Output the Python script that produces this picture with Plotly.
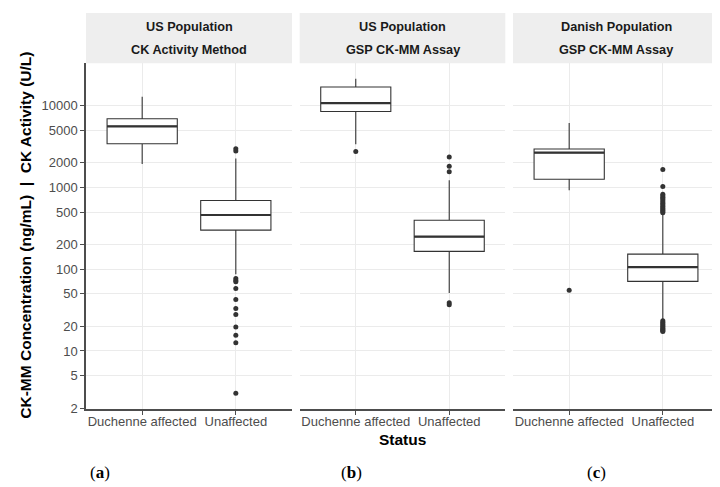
import math
import plotly.graph_objects as go

# ---- data ----
categories = ["Duchenne affected", "Unaffected"]
strip_line1 = ["US Population", "US Population", "Danish Population"]
strip_line2 = ["CK Activity Method", "GSP CK-MM Assay", "GSP CK-MM Assay"]
panel_labels = ["a", "b", "c"]

# panel (a): US population, CK activity method
a_low = [1930, 87]
a_q1 = [3420, 300]
a_med = [5580, 460]
a_q3 = [6920, 692]
a_up = [12800, 2250]
a_out_duch = []
a_out_unaff = [2970, 2790, 77, 73, 70, 58, 42.5, 33, 28, 19.6, 15.6, 12.6, 3.05]

# panel (b): US population, GSP CK-MM assay
b_low = [3360, 51]
b_q1 = [8480, 165]
b_med = [10700, 250]
b_q3 = [16900, 397]
b_up = [21300, 1225]
b_out_duch = [2740]
b_out_unaff = [2360, 1820, 1550, 38.9, 36.8]

# panel (c): Danish population, GSP CK-MM assay
c_low = [920, 24.5]
c_q1 = [1260, 71]
c_med = [2660, 106]
c_q3 = [2950, 153]
c_up = [6120, 478]
c_out_duch = [55.3]
c_out_unaff = [1650, 1028, 824, 790, 760, 730, 700, 670, 640, 615, 590, 565,
               545, 525, 505, 490, 23.5, 22.5, 21.5, 20.8, 20.0, 19.3, 18.7,
               18.2, 17.7, 17.3]

y_ticks = [2, 5, 10, 20, 50, 100, 200, 500, 1000, 2000, 5000, 10000]

panels = [
    (a_low, a_q1, a_med, a_q3, a_up, a_out_duch, a_out_unaff),
    (b_low, b_q1, b_med, b_q3, b_up, b_out_duch, b_out_unaff),
    (c_low, c_q1, c_med, c_q3, c_up, c_out_duch, c_out_unaff),
]

# ---- layout geometry ----
W, H = 720, 487
x_px = [(78, 284), (291.7, 497.3), (505, 711)]
plot_top, plot_bot = 56, 407
strip_top = 5
ydom = [(H - plot_bot) / H, (H - plot_top) / H]
pos = [1, 2]
box_w = 0.75
line_col = "#333333"
axis_col = "#4D4D4D"
grid_col = "#EBEBEB"

fig = go.Figure()

for i, (low, q1, med, q3, up, od, ou) in enumerate(panels):
    xa = "x" if i == 0 else f"x{i+1}"
    ya = "y" if i == 0 else f"y{i+1}"
    fig.add_trace(go.Box(
        x=pos, q1=q1, median=med, q3=q3, lowerfence=low, upperfence=up,
        width=box_w, whiskerwidth=0, boxpoints=False,
        fillcolor="white", line=dict(color=line_col, width=1.1),
        xaxis=xa, yaxis=ya, showlegend=False, hoverinfo="skip"))
    # thicker median lines (ggplot fatten)
    for p, m in zip(pos, med):
        fig.add_trace(go.Scatter(
            x=[p - box_w / 2, p + box_w / 2], y=[m, m], mode="lines",
            line=dict(color=line_col, width=2.2), xaxis=xa, yaxis=ya,
            showlegend=False, hoverinfo="skip"))
    # outliers
    ox = [pos[0]] * len(od) + [pos[1]] * len(ou)
    oy = list(od) + list(ou)
    fig.add_trace(go.Scatter(
        x=ox, y=oy, mode="markers",
        marker=dict(color=line_col, size=5),
        xaxis=xa, yaxis=ya, showlegend=False, hoverinfo="skip"))

yr = [math.log10(1.945), math.log10(33000)]

layout = dict(
    width=W, height=H, margin=dict(l=0, r=0, t=0, b=0),
    paper_bgcolor="white", plot_bgcolor="white",
    font=dict(family="Liberation Sans, Arial", color=axis_col, size=13),
    showlegend=False,
)
shapes = []
annotations = []
for i in range(3):
    xk = "xaxis" if i == 0 else f"xaxis{i+1}"
    yk = "yaxis" if i == 0 else f"yaxis{i+1}"
    xd = [x_px[i][0] / W, x_px[i][1] / W]
    yname = "y" if i == 0 else f"y{i+1}"
    xname = "x" if i == 0 else f"x{i+1}"
    layout[xk] = dict(
        domain=xd, anchor=yname, range=[0.4, 2.6],
        tickvals=pos, ticktext=categories,
        showgrid=True, gridcolor=grid_col, gridwidth=1,
        showline=True, linecolor=axis_col, linewidth=1.5,
        ticks="outside", ticklen=4, tickcolor=axis_col,
        ticklabelstandoff=-4,
        tickfont=dict(size=13, color="#4D4D4D"), zeroline=False,
        fixedrange=True)
    layout[yk] = dict(
        domain=ydom, anchor=xname, type="log", range=yr,
        tickvals=y_ticks, ticktext=[str(v) for v in y_ticks],
        showgrid=True, gridcolor=grid_col, gridwidth=1,
        showline=(i == 0), linecolor=axis_col, linewidth=1.5,
        ticks="outside" if i == 0 else "", ticklen=4, tickcolor=axis_col,
        showticklabels=(i == 0),
        tickfont=dict(size=13, color="#4D4D4D"), zeroline=False)
    if i > 0:
        layout[yk]["matches"] = "y"
    # strip background
    shapes.append(dict(type="rect", xref="paper", yref="paper",
                       x0=xd[0], x1=xd[1], y0=(H - plot_top) / H,
                       y1=(H - strip_top) / H, fillcolor="#EEEEEE",
                       line=dict(width=0), layer="below"))
    cx = (xd[0] + xd[1]) / 2
    annotations.append(dict(text=f"<b>{strip_line1[i]}</b>", x=cx, y=(H - 19) / H,
                            xref="paper", yref="paper", showarrow=False,
                            font=dict(size=12.7, color="#1A1A1A"),
                            xanchor="center", yanchor="middle"))
    annotations.append(dict(text=f"<b>{strip_line2[i]}</b>", x=cx, y=(H - 43) / H,
                            xref="paper", yref="paper", showarrow=False,
                            font=dict(size=12.7, color="#1A1A1A"),
                            xanchor="center", yanchor="middle"))
    lab_x = [92, 343, 588][i]
    annotations.append(dict(text=f"(<b>{panel_labels[i]}</b>)", x=lab_x / W,
                            y=(H - 471) / H, xref="paper", yref="paper",
                            showarrow=False,
                            font=dict(size=17, color="black",
                                      family="Liberation Serif, Times New Roman"),
                            xanchor="center", yanchor="middle"))

annotations.append(dict(text="<b>Status</b>", x=394.5 / W, y=(H - 437.5) / H,
                        xref="paper", yref="paper", showarrow=False,
                        font=dict(size=15.5, color="black"),
                        xanchor="center", yanchor="middle"))
annotations.append(dict(text="<b>CK-MM Concentration (ng/mL)  |  CK Activity (U/L)</b>",
                        x=17.5 / W, y=(H - 230.5) / H, xref="paper", yref="paper",
                        showarrow=False, textangle=-90,
                        font=dict(size=15.5, color="black"),
                        xanchor="center", yanchor="middle"))
layout["shapes"] = shapes
layout["annotations"] = annotations
fig.update_layout(**layout)

fig.write_html("out.html")
